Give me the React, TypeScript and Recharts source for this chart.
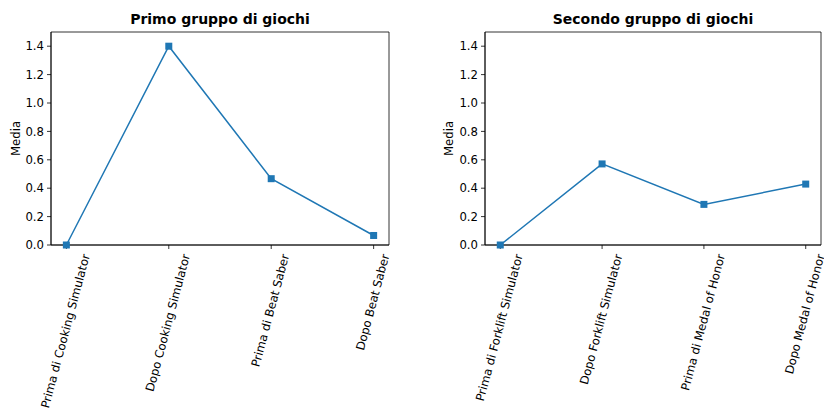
import React from "react";
import { LineChart, Line, XAxis, YAxis, ReferenceArea } from "recharts";

const FONT = "'DejaVu Sans', sans-serif";
const TICK_FS = 11.7;
const BLUE = "#1f77b4";

const group1Labels = [
  "Prima di Cooking Simulator",
  "Dopo Cooking Simulator",
  "Prima di Beat Saber",
  "Dopo Beat Saber",
];
const group1Values = [0, 1.4, 0.467, 0.067];

const group2Labels = [
  "Prima di Forklift Simulator",
  "Dopo Forklift Simulator",
  "Prima di Medal of Honor",
  "Dopo Medal of Honor",
];
const group2Values = [0, 0.571, 0.286, 0.429];

const yTicks = [0, 0.2, 0.4, 0.6, 0.8, 1.0, 1.2, 1.4];

let ctx: CanvasRenderingContext2D | null = null;
const measure = (s: string) => {
  if (!ctx) ctx = document.createElement("canvas").getContext("2d");
  if (!ctx) return s.length * TICK_FS * 0.55;
  ctx.font = `${TICK_FS}px 'DejaVu Sans'`;
  return ctx.measureText(s).width;
};

// rotated 75deg, box centred on the tick, top of box just under the axis
const RotTick = ({ x, y, payload, labels }: any) => {
  const label = labels[payload.value] ?? "";
  const L = measure(label);
  const asc = 0.76 * TICK_FS;
  const desc = 0.24 * TICK_FS;
  const ex = x + 0.1295 * L + 0.483 * (asc - desc);
  const ey = y + 0.259 * asc;
  return (
    <text
      x={ex}
      y={ey}
      textAnchor="end"
      fontFamily={FONT}
      fontSize={TICK_FS}
      fill="#000"
      transform={`rotate(-75, ${ex}, ${ey})`}
    >
      {label}
    </text>
  );
};

const SquareDot = (props: any) => {
  const { cx, cy, index } = props;
  return <rect key={index} x={cx - 3.5} y={cy - 3.5} width={7} height={7} fill={BLUE} />;
};

const Panel = ({
  labels,
  values,
  width,
  yWidth,
  right,
}: {
  labels: string[];
  values: number[];
  width: number;
  yWidth: number;
  right: number;
}) => {
  const data = labels.map((name, i) => ({ x: i, name, v: values[i] }));
  return (
    <LineChart
      width={width}
      height={409}
      data={data}
      margin={{ top: 32, right, bottom: 0, left: 0 }}
    >
      <XAxis
        dataKey="x"
        type="number"
        domain={[-0.15, 3.15]}
        ticks={[0, 1, 2, 3]}
        interval={0}
        height={164}
        tickSize={4}
        tickMargin={4}
        axisLine={{ stroke: "#000", strokeWidth: 0.8 }}
        tickLine={{ stroke: "#000", strokeWidth: 0.8 }}
        tick={<RotTick labels={labels} />}
      />
      <YAxis
        type="number"
        domain={[0, 1.5]}
        ticks={yTicks}
        width={yWidth}
        tickSize={4}
        tickMargin={3}
        tickFormatter={(v: number) => v.toFixed(1)}
        axisLine={{ stroke: "#000", strokeWidth: 0.8 }}
        tickLine={{ stroke: "#000", strokeWidth: 0.8 }}
        tick={{ fill: "#000", fontSize: TICK_FS, fontFamily: FONT }}
      />
      <ReferenceArea
        x1={-0.15}
        x2={3.15}
        y1={0}
        y2={1.5}
        fill="none"
        stroke="#000"
        strokeWidth={0.8}
        ifOverflow="visible"
      />
      <Line
        dataKey="v"
        type="linear"
        stroke={BLUE}
        strokeWidth={1.5}
        dot={SquareDot}
        activeDot={false}
        isAnimationActive={false}
      />
    </LineChart>
  );
};

export default function App() {
  return (
    <div
      style={{
        position: "absolute",
        left: 0,
        top: 0,
        width: 824,
        height: 409,
        background: "#fff",
      }}
    >
      <div style={{ position: "absolute", left: 0, top: 0 }}>
        <Panel labels={group1Labels} values={group1Values} width={420} yWidth={51} right={31} />
      </div>
      <div style={{ position: "absolute", left: 420, top: 0 }}>
        <Panel labels={group2Labels} values={group2Values} width={404} yWidth={65} right={3} />
      </div>
      <svg
        width={824}
        height={409}
        style={{ position: "absolute", left: 0, top: 0, pointerEvents: "none" }}
      >
        <text x={220} y={24} textAnchor="middle" fontFamily={FONT} fontWeight="bold" fontSize={14} fill="#000">
          Primo gruppo di giochi
        </text>
        <text x={653} y={24} textAnchor="middle" fontFamily={FONT} fontWeight="bold" fontSize={14} fill="#000">
          Secondo gruppo di giochi
        </text>
        <text x={20} y={138.5} textAnchor="middle" fontFamily={FONT} fontSize={TICK_FS} fill="#000" transform="rotate(-90, 20, 138.5)">
          Media
        </text>
        <text x={453} y={138.5} textAnchor="middle" fontFamily={FONT} fontSize={TICK_FS} fill="#000" transform="rotate(-90, 453, 138.5)">
          Media
        </text>
      </svg>
    </div>
  );
}
